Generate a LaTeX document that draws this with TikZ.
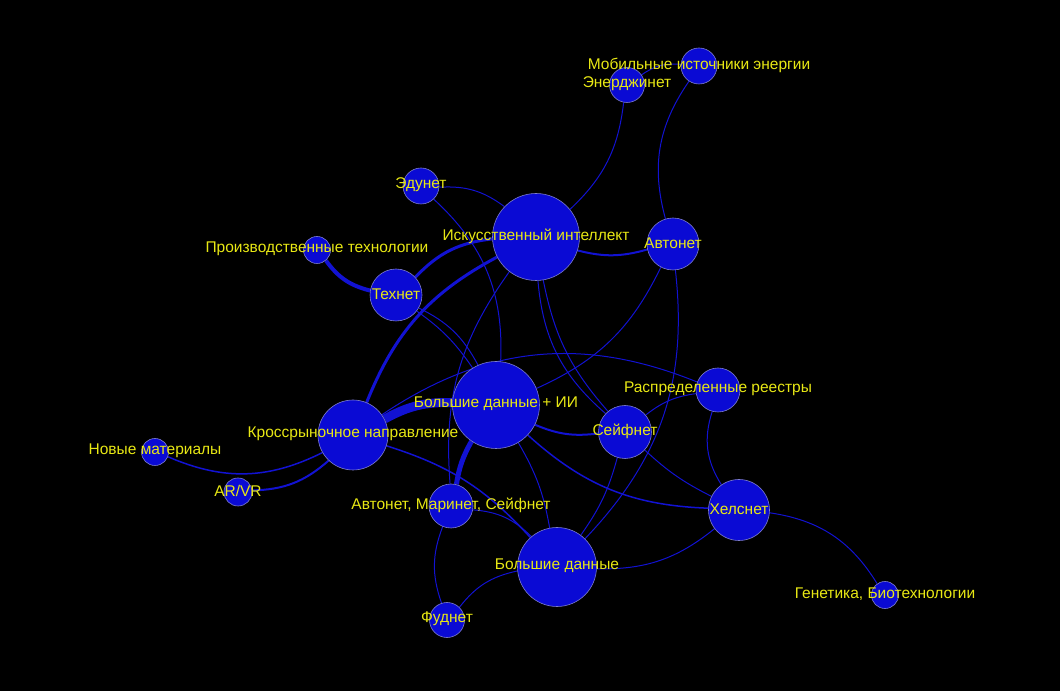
\documentclass[tikz,border=0pt]{standalone}
\usepackage{fontspec}
\setmainfont{Liberation Sans}
\usepackage{tikz}

\definecolor{nodeblue}{RGB}{10,10,212}
\definecolor{rimblue}{RGB}{125,125,205}
\definecolor{edgeblue}{RGB}{18,18,210}
\definecolor{lblyellow}{RGB}{232,232,20}

\pgfdeclarelayer{bg}
\pgfdeclarelayer{edges}
\pgfsetlayers{bg,edges,main}

\begin{document}
\begin{tikzpicture}[x=1pt,y=1pt,
    topic/.style={circle,fill=nodeblue,draw=rimblue,line width=0.6pt,inner sep=0pt,minimum size=#1},
    lbl/.style={text=lblyellow,font=\fontsize{15.5}{17}\selectfont,yshift=1pt,inner sep=0pt},
    link/.style={draw=edgeblue,line width=1pt}]
            \useasboundingbox (0,0) rectangle (1060,691);
            \begin{pgfonlayer}{bg}
                \fill[black] (0,0) rectangle (1060,691);
            \end{pgfonlayer}

            \node[topic=35pt,label={[lbl]center:Энерджинет}] (energ) at (627,606) {};
            \node[topic=36pt,label={[lbl]center:Мобильные источники энергии}] (mob) at (699,625) {};
            \node[topic=36pt,label={[lbl]center:Эдунет}] (edu) at (421,505) {};
            \node[topic=87pt,label={[lbl]center:Искусственный интеллект}] (ai) at (536,454) {};
            \node[topic=52pt,label={[lbl]center:Автонет}] (avto) at (673,447) {};
            \node[topic=27pt,label={[lbl]center:Производственные технологии}] (proizv) at (317,441) {};
            \node[topic=52pt,label={[lbl]center:Технет}] (tech) at (396,396) {};
            \node[topic=87pt,label={[lbl]center:Большие данные + ИИ}] (bdai) at (496,286) {};
            \node[topic=44pt,label={[lbl]center:Распределенные реестры}] (reestr) at (718,301) {};
            \node[topic=70pt,label={[lbl]center:Кроссрыночное направление}] (cross) at (353,256) {};
            \node[topic=53pt,label={[lbl]center:Сейфнет}] (safe) at (625,259) {};
            \node[topic=27pt,label={[lbl]center:Новые материалы}] (mater) at (155,239) {};
            \node[topic=28pt,label={[lbl]center:AR/VR}] (arvr) at (238,199) {};
            \node[topic=44pt,label={[lbl]center:{Автонет, Маринет, Сейфнет}}] (ams) at (451,185) {};
            \node[topic=61pt,label={[lbl]center:Хелснет}] (health) at (739,181) {};
            \node[topic=79pt,label={[lbl]center:Большие данные}] (bd) at (557,124) {};
            \node[topic=35pt,label={[lbl]center:Фуднет}] (food) at (447,71) {};
            \node[topic=27pt,label={[lbl]center:{Генетика, Биотехнологии}}] (gen) at (885,96) {};

            % edges sit behind the circles
            \begin{pgfonlayer}{edges}
            \draw[link] (energ) to[bend left=20] (mob);
            \draw[link] (mob) to[bend right=25] (avto);
            \draw[link] (energ) to[bend left=20] (ai);
            \draw[link] (edu) to[bend left=20] (ai);
            \draw[link] (edu) to[bend left=25] (bdai);
            \draw[link,line width=4pt] (proizv) to[bend right=20] (tech);
            \draw[link,line width=3pt] (tech) to[bend left=20] (ai);
            \draw[link,line width=3pt] (cross) to[bend left=20] (ai);
            \draw[link] (tech) to[bend left=10] (bdai);
            \draw[link] (tech) to[bend left=18] (bdai);
            \draw[link,line width=2pt] (ai) to[bend right=15] (avto);
            \draw[link] (ai) to[bend right=15] (safe);
            \draw[link] (ai) to[bend right=22] (safe);
            \draw[link] (ai) to[bend right=20] (ams);
            \draw[link] (avto) to[bend left=20] (bdai);
            \draw[link] (avto) to[bend left=25] (bd);
            \draw[link,line width=9pt] (cross) to[bend left=15] (bdai);
            \draw[link] (cross) to[bend left=28] (reestr);
            \draw[link,line width=1.5pt] (cross) to[bend left=25] (mater);
            \draw[link,line width=2pt] (cross) to[bend left=20] (arvr);
            \draw[link,line width=1.5pt] (cross) to[bend left=15] (bd);
            \draw[link,line width=5pt] (bdai) to[bend right=10] (ams);
            \draw[link,line width=2pt] (bdai) to[bend right=15] (safe);
            \draw[link,line width=1.5pt] (bdai) to[bend right=20] (health);
            \draw[link] (bdai) to[bend left=10] (bd);
            \draw[link] (safe) to[bend left=15] (reestr);
            \draw[link] (safe) to[bend right=8] (health);
            \draw[link] (safe) to[bend left=10] (bd);
            \draw[link] (reestr) to[bend right=25] (health);
            \draw[link] (health) to[bend left=20] (bd);
            \draw[link] (health) to[bend left=25] (gen);
            \draw[link] (ams) to[bend left=20] (bd);
            \draw[link] (ams) to[bend right=20] (food);
            \draw[link] (bd) to[bend right=20] (food);
            \end{pgfonlayer}

        \end{tikzpicture}
\end{document}
